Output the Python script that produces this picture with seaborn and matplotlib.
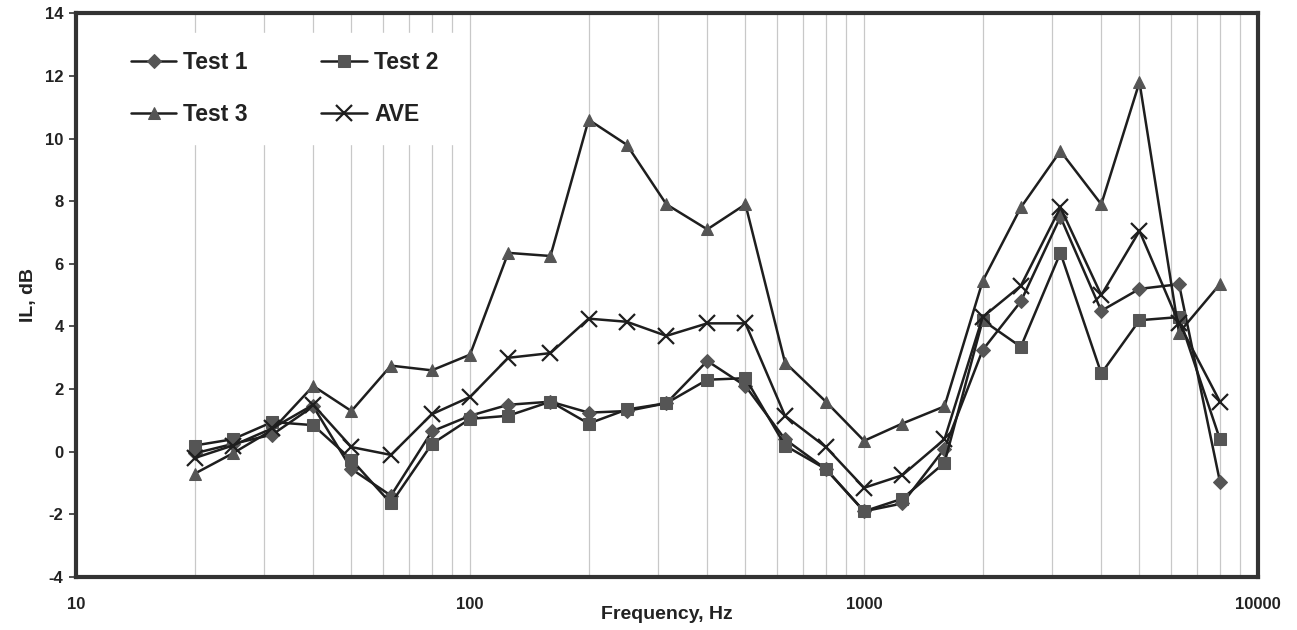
import matplotlib
matplotlib.use("Agg")
import matplotlib.pyplot as plt
import seaborn as sns
import numpy as np
import pandas as pd
from matplotlib.ticker import LogLocator, FixedLocator, NullFormatter

freq = [20, 25, 31.5, 40, 50, 63, 80, 100, 125, 160, 200, 250, 315, 400, 500,
        630, 800, 1000, 1250, 1600, 2000, 2500, 3150, 4000, 5000, 6300, 8000]

test1 = [-0.05, 0.25, 0.55, 1.45, -0.55, -1.4, 0.65, 1.15, 1.5, 1.6, 1.25, 1.3, 1.55, 2.9, 2.1,
         0.4, -0.55, -1.9, -1.65, 0.1, 3.25, 4.8, 7.5, 4.5, 5.2, 5.35, -0.95]
test2 = [0.2, 0.4, 0.95, 0.85, -0.25, -1.65, 0.25, 1.05, 1.15, 1.6, 0.9, 1.35, 1.55, 2.3, 2.35,
         0.2, -0.55, -1.9, -1.5, -0.35, 4.2, 3.35, 6.35, 2.5, 4.2, 4.3, 0.4]
test3 = [-0.7, -0.05, 0.7, 2.1, 1.3, 2.75, 2.6, 3.1, 6.35, 6.25, 10.6, 9.8, 7.9, 7.1, 7.9,
         2.85, 1.6, 0.35, 0.9, 1.45, 5.45, 7.8, 9.6, 7.9, 11.8, 3.8, 5.35]
ave = [-0.2, 0.2, 0.75, 1.5, 0.15, -0.1, 1.2, 1.75, 3.0, 3.15, 4.25, 4.15, 3.7, 4.1, 4.1,
       1.15, 0.15, -1.15, -0.75, 0.4, 4.3, 5.3, 7.8, 5.0, 7.05, 4.1, 1.6]

series_names = ["Test 1", "Test 2", "Test 3", "AVE"]
y_ticks = [-4, -2, 0, 2, 4, 6, 8, 10, 12, 14]
x_ticks = [10, 100, 1000, 10000]
x_ticklabels = ["10", "100", "1000", "10000"]

sns.set_theme(style="white")
plt.rcParams['font.family'] = ['Liberation Sans', 'DejaVu Sans']
plt.rcParams['font.weight'] = 'bold'

fig = plt.figure(figsize=(12.97, 6.30), dpi=100)
ax = fig.add_axes([0.0586, 0.084, 0.9114, 0.895])

line_c = "#1e1e1e"
mark_c = "#555555"
styles = {
    "Test 1": dict(marker="D", markersize=7),
    "Test 2": dict(marker="s", markersize=8),
    "Test 3": dict(marker="^", markersize=9),
    "AVE": dict(marker="x", markersize=11),
}
data = {"Test 1": test1, "Test 2": test2, "Test 3": test3, "AVE": ave}

for name in series_names:
    df = pd.DataFrame({"freq": freq, "IL": data[name]})
    st = styles[name]
    kw = dict(marker=st["marker"], markersize=st["markersize"], color=line_c, linewidth=1.8)
    if st["marker"] == "x":
        kw.update(markeredgecolor=line_c, markeredgewidth=1.6)
    else:
        kw.update(markerfacecolor=mark_c, markeredgecolor=mark_c)
    sns.lineplot(data=df, x="freq", y="IL", ax=ax, label=name, **kw)

ax.set_xscale("log")
ax.set_xlim(10, 10000)
ax.set_ylim(-4, 14)
ax.set_yticks(y_ticks)
ax.set_yticklabels([str(t) for t in y_ticks], fontsize=12, fontweight="bold", color="#222")
ax.xaxis.set_major_locator(FixedLocator(x_ticks))
ax.set_xticklabels(x_ticklabels, fontsize=12, fontweight="bold", color="#222")
ax.xaxis.set_minor_locator(LogLocator(base=10, subs=np.arange(2, 10)))
ax.xaxis.set_minor_formatter(NullFormatter())
ax.grid(True, axis="x", which="both", color="#c8c8c8", linewidth=0.9)
ax.grid(False, axis="y")
ax.set_axisbelow(True)

ax.tick_params(axis="y", which="major", direction="out", length=5, width=1.2, color="#333", left=True, pad=4)
ax.tick_params(axis="x", which="both", length=0, pad=14)

for sp in ax.spines.values():
    sp.set_linewidth(3)
    sp.set_color("#333333")

ax.set_xlabel("Frequency, Hz", fontsize=14, fontweight="bold", color="#222", labelpad=-4)
ax.set_ylabel("IL, dB", fontsize=14, fontweight="bold", color="#222", labelpad=6)

h, l = ax.get_legend_handles_labels()
order = [l.index("Test 1"), l.index("Test 3"), l.index("Test 2"), l.index("AVE")]
leg = ax.legend([h[i] for i in order], [l[i] for i in order], ncol=2,
                loc="upper left", bbox_to_anchor=(0.021, 0.985),
                prop={"size": 16.5, "weight": "bold"}, frameon=True, fancybox=False,
                edgecolor="white", facecolor="white", framealpha=1.0,
                handlelength=2.0, handletextpad=0.3, columnspacing=3.2,
                labelspacing=1.25, borderpad=0.8)
for t in leg.get_texts():
    t.set_color("#222")

fig.savefig("out.png", dpi=100, facecolor="white")
